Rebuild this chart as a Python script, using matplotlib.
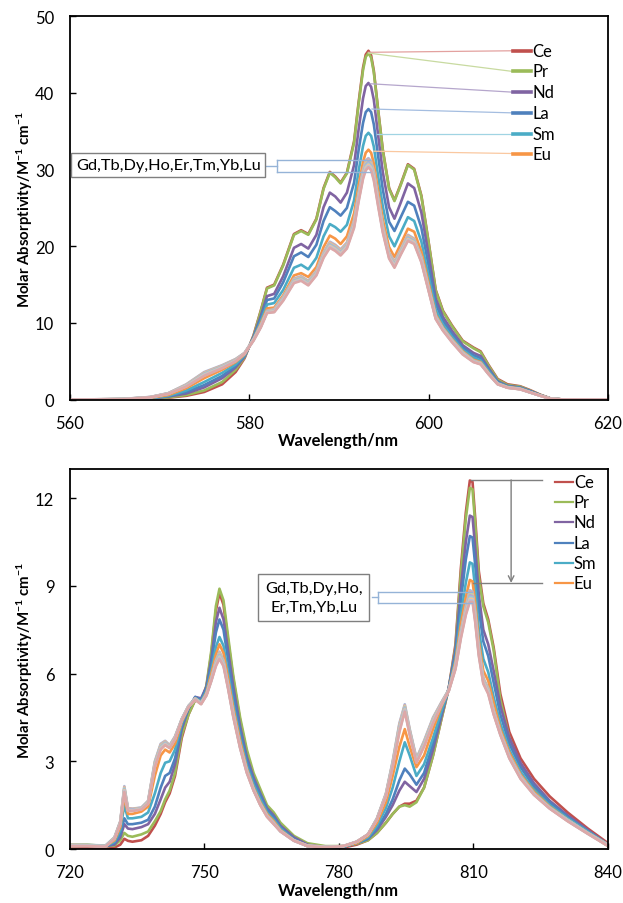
import matplotlib
matplotlib.use('Agg')
import matplotlib.pyplot as plt

plt.rcParams['font.family'] = ['Lato', 'DejaVu Sans']
plt.rcParams['mathtext.fontset'] = 'custom'
plt.rcParams['mathtext.rm'] = 'Lato:bold'
plt.rcParams['mathtext.it'] = 'Lato:bold'
plt.rcParams['mathtext.bf'] = 'Lato:bold'
plt.rcParams['mathtext.default'] = 'rm'

# ---------------- data: top panel (560-620 nm) ----------------
wl_top = [560, 566, 569, 571, 573, 575, 577, 578.5, 579.5, 580.5, 581.3, 582, 582.8, 583.8, 585, 585.8,
          586.6, 587.5, 588.3, 589, 589.6, 590.2, 590.9, 591.7, 592.2, 592.7, 593.0, 593.3, 593.6, 593.9,
          594.4, 594.9, 595.6, 596.2, 596.9, 597.7, 598.4, 599.2, 600, 600.8, 601.6, 602.6, 603.8, 605,
          605.8, 606.7, 607.7, 608.8, 610.2, 611.3, 612.5, 613.6, 615, 620]

Ce_top = [0, 0.03, 0.08, 0.25, 0.5, 1.0, 2.0, 3.6, 5.4, 8.4, 11.6, 14.6, 15.0, 17.6, 21.6, 22.1, 21.6, 23.6, 27.6,
          29.7, 29.1, 28.3, 29.6, 33.7, 38.7, 43.3, 45.0, 45.5, 44.9, 42.9, 37.6, 32.6, 27.6, 26.0, 28.1, 30.7,
          30.1, 26.6, 20.6, 14.3, 11.6, 9.7, 7.7, 6.8, 6.3, 4.5, 2.7, 2.0, 1.75, 1.25, 0.62, 0.16, 0.02, 0]
Pr_top = [0, 0.05, 0.1, 0.3, 0.6, 1.2, 2.3, 3.9, 5.5, 8.3, 11.5, 14.5, 14.9, 17.5, 21.5, 22.0, 21.5, 23.5, 27.5,
          29.6, 29.0, 28.2, 29.5, 33.5, 38.5, 43.0, 44.7, 45.2, 44.6, 42.7, 37.5, 32.5, 27.5, 25.9, 28.0, 30.6,
          30.0, 26.5, 20.5, 14.2, 11.5, 9.6, 7.6, 6.7, 6.2, 4.4, 2.6, 1.9, 1.7, 1.2, 0.6, 0.15, 0.02, 0]
Nd_top = [0, 0.05, 0.15, 0.4, 0.8, 1.6, 2.8, 4.2, 5.6, 8.2, 10.9, 13.5, 13.8, 16.1, 19.8, 20.3, 19.7, 21.5, 25.1,
          27.0, 26.5, 25.7, 27.0, 30.6, 35.2, 39.3, 40.9, 41.3, 40.8, 39.1, 34.3, 29.7, 25.1, 23.6, 25.7, 28.2,
          27.6, 24.4, 18.9, 13.2, 10.8, 9.0, 7.1, 6.1, 5.7, 4.1, 2.4, 1.8, 1.6, 1.15, 0.57, 0.14, 0.02, 0]
La_top = [0, 0.05, 0.2, 0.45, 1.0, 1.9, 3.1, 4.4, 5.7, 8.1, 10.6, 13.0, 13.2, 15.3, 18.7, 19.2, 18.6, 20.2, 23.3,
          25.1, 24.6, 24.0, 25.0, 28.3, 32.5, 36.1, 37.5, 37.9, 37.5, 35.9, 31.6, 27.4, 23.2, 22.0, 23.8, 25.8,
          25.3, 22.4, 17.5, 12.5, 10.3, 8.6, 6.8, 5.8, 5.4, 3.9, 2.3, 1.75, 1.55, 1.1, 0.55, 0.13, 0.02, 0]
Sm_top = [0, 0.06, 0.2, 0.5, 1.2, 2.3, 3.5, 4.6, 5.8, 8.0, 10.2, 12.4, 12.6, 14.3, 17.2, 17.6, 17.0, 18.5, 21.3,
          22.9, 22.5, 21.9, 22.8, 26.0, 29.8, 33.1, 34.4, 34.8, 34.4, 33.0, 29.0, 25.2, 21.3, 20.0, 21.8, 23.8,
          23.3, 20.6, 16.1, 11.7, 9.8, 8.2, 6.5, 5.5, 5.1, 3.7, 2.2, 1.7, 1.5, 1.05, 0.53, 0.13, 0.02, 0]
Eu_top = [0, 0.07, 0.25, 0.6, 1.5, 2.8, 3.9, 4.9, 5.9, 7.9, 9.9, 11.9, 12.0, 13.6, 16.2, 16.5, 16.0, 17.3, 19.9,
          21.4, 21.0, 20.3, 21.3, 24.3, 27.9, 31.0, 32.2, 32.6, 32.2, 30.8, 27.1, 23.5, 19.9, 18.6, 20.3, 22.3,
          21.9, 19.3, 15.2, 11.1, 9.4, 7.9, 6.3, 5.2, 4.9, 3.5, 2.1, 1.65, 1.45, 1.0, 0.51, 0.12, 0.02, 0]
Gd_top = [0, 0.1, 0.35, 0.85, 2.0, 3.6, 4.5, 5.3, 6.1, 7.9, 9.7, 11.6, 11.8, 13.4, 15.8, 16.1, 15.5, 16.8, 19.2,
          20.6, 20.2, 19.6, 20.5, 23.4, 26.9, 30.0, 31.2, 31.5, 31.1, 29.8, 26.2, 22.7, 19.2, 18.0, 19.6, 21.5,
          21.0, 18.6, 14.7, 10.9, 9.3, 7.8, 6.2, 5.1, 4.8, 3.4, 2.1, 1.6, 1.4, 0.97, 0.52, 0.13, 0.02, 0]
Tb_top = [0, 0.09, 0.34, 0.84, 1.96, 3.53, 4.44, 5.26, 6.09, 7.87, 9.66, 11.56, 11.74, 13.33, 15.71, 16.01, 15.41,
          16.71, 19.1, 20.49, 20.09, 19.49, 20.39, 23.26, 26.74, 29.83, 31.01, 31.33, 30.93, 29.63, 26.04, 22.57,
          19.09, 17.89, 19.5, 21.39, 20.9, 18.5, 14.63, 10.84, 9.26, 7.76, 6.16, 5.07, 4.77, 3.39, 2.09, 1.6, 1.4,
          0.97, 0.52, 0.13, 0.02, 0]
Dy_top = [0, 0.09, 0.33, 0.82, 1.91, 3.46, 4.39, 5.21, 6.07, 7.84, 9.61, 11.51, 11.69, 13.26, 15.63, 15.93, 15.33,
          16.63, 19.0, 20.37, 19.97, 19.37, 20.27, 23.11, 26.59, 29.66, 30.83, 31.16, 30.76, 29.46, 25.89, 22.44,
          18.97, 17.77, 19.4, 21.27, 20.8, 18.4, 14.56, 10.79, 9.21, 7.71, 6.11, 5.04, 4.74, 3.37, 2.07, 1.59, 1.39,
          0.96, 0.51, 0.12, 0.02, 0]
Ho_top = [0, 0.08, 0.33, 0.81, 1.87, 3.39, 4.33, 5.17, 6.06, 7.81, 9.57, 11.47, 11.63, 13.19, 15.54, 15.84, 15.24,
          16.54, 18.9, 20.26, 19.86, 19.26, 20.16, 22.97, 26.43, 29.49, 30.64, 30.99, 30.59, 29.29, 25.73, 22.31,
          18.86, 17.66, 19.3, 21.16, 20.7, 18.3, 14.49, 10.73, 9.17, 7.67, 6.07, 5.01, 4.71, 3.36, 2.06, 1.58, 1.38,
          0.96, 0.51, 0.12, 0.02, 0]
Er_top = [0, 0.07, 0.32, 0.79, 1.83, 3.31, 4.27, 5.13, 6.04, 7.79, 9.53, 11.43, 11.57, 13.11, 15.46, 15.76, 15.16,
          16.46, 18.8, 20.14, 19.74, 19.14, 20.04, 22.83, 26.27, 29.31, 30.46, 30.81, 30.41, 29.11, 25.57, 22.19,
          18.74, 17.54, 19.2, 21.04, 20.6, 18.2, 14.41, 10.67, 9.13, 7.63, 6.03, 4.99, 4.69, 3.34, 2.04, 1.57, 1.37,
          0.95, 0.5, 0.12, 0.02, 0]
Tm_top = [0, 0.06, 0.31, 0.78, 1.79, 3.24, 4.21, 5.09, 6.03, 7.76, 9.49, 11.39, 11.51, 13.04, 15.37, 15.67, 15.07,
          16.37, 18.7, 20.03, 19.63, 19.03, 19.93, 22.69, 26.11, 29.14, 30.27, 30.64, 30.24, 28.94, 25.41, 22.06,
          18.63, 17.43, 19.1, 20.93, 20.5, 18.1, 14.34, 10.61, 9.09, 7.59, 5.99, 4.96, 4.66, 3.33, 2.03, 1.56, 1.36,
          0.95, 0.5, 0.12, 0.02, 0]
Yb_top = [0, 0.06, 0.3, 0.76, 1.74, 3.17, 4.16, 5.04, 6.01, 7.73, 9.44, 11.34, 11.46, 12.97, 15.29, 15.59, 14.99,
          16.29, 18.6, 19.91, 19.51, 18.91, 19.81, 22.54, 25.96, 28.97, 30.09, 30.47, 30.07, 28.77, 25.26, 21.93,
          18.51, 17.31, 19.0, 20.81, 20.4, 18.0, 14.27, 10.56, 9.04, 7.54, 5.94, 4.93, 4.63, 3.31, 2.01, 1.56, 1.36,
          0.94, 0.49, 0.11, 0.02, 0]
Lu_top = [0, 0.05, 0.3, 0.75, 1.7, 3.1, 4.1, 5.0, 6.0, 7.7, 9.4, 11.3, 11.4, 12.9, 15.2, 15.5, 14.9, 16.2, 18.5,
          19.8, 19.4, 18.8, 19.7, 22.4, 25.8, 28.8, 29.9, 30.3, 29.9, 28.6, 25.1, 21.8, 18.4, 17.2, 18.9, 20.7,
          20.3, 17.9, 14.2, 10.5, 9.0, 7.5, 5.9, 4.9, 4.6, 3.3, 2.0, 1.55, 1.35, 0.94, 0.49, 0.11, 0.02, 0]

# ---------------- data: bottom panel (720-840 nm) ----------------
wl_bot = [720, 724, 728, 730, 731.3, 732.2, 733.0, 734, 736, 737.5, 739, 740.3, 741.3, 742.3, 743.5, 745, 746.5,
          748, 749.3, 750.5, 751.6, 752.6, 753.4, 754.3, 755.3, 756.5, 758, 759.5, 761, 762.5, 764, 765.5, 767,
          770, 773, 777, 781, 784, 786.5, 788.5, 790.5, 792, 793.5, 794.7, 795.8, 797.3, 799, 801, 802.8, 804.5,
          806, 807.2, 808.3, 809.2, 809.8, 810.4, 811.2, 812.2, 813.3, 814.5, 816, 818, 820.5, 823.5, 827, 831,
          835.5, 840]

Ce_bot = [.05, .05, 0.0, .05, .15, .35, .28, .25, .3, .45, .8, 1.2, 1.6, 1.9, 2.5, 3.8, 4.6, 5.1, 5.05, 5.55, 6.7,
          8.15, 8.75, 8.35, 7.15, 5.8, 4.4, 3.3, 2.5, 1.95, 1.4, 1.15, .8, .35, .1, 0.0, .05, .15, .3, .55, .9, 1.2,
          1.45, 1.55, 1.55, 1.65, 2.1, 3.2, 4.4, 5.5, 7.0, 9.6, 11.5, 12.6, 12.55, 11.3, 9.5, 8.4, 7.85, 6.9, 5.3,
          4.0, 3.1, 2.4, 1.8, 1.25, .7, .2]
Pr_bot = [.15, .15, .1, .12, .3, .55, .45, .42, .5, .6, .95, 1.3, 1.7, 2.0, 2.6, 3.9, 4.6, 5.1, 5.0, 5.6, 6.8, 8.3,
          8.9, 8.5, 7.3, 5.9, 4.5, 3.4, 2.6, 2.05, 1.5, 1.25, .9, .45, .2, .1, .1, .18, .3, .55, .9, 1.2, 1.45, 1.5,
          1.45, 1.6, 2.1, 3.2, 4.4, 5.5, 6.9, 9.4, 11.3, 12.35, 12.3, 11.1, 9.3, 8.3, 7.75, 6.8, 5.1, 3.8, 2.85, 2.1,
          1.5, 1.0, .55, .1]
Nd_bot = [.12, .12, .1, .15, .4, .85, .7, .68, .75, .85, 1.2, 1.7, 2.1, 2.3, 2.9, 4.1, 4.8, 5.2, 5.15, 5.55, 6.5,
          7.75, 8.25, 7.85, 6.8, 5.55, 4.2, 3.15, 2.45, 1.9, 1.4, 1.15, .8, .4, .15, .05, .08, .2, .35, .65, 1.1, 1.5,
          2.0, 2.3, 2.15, 1.95, 2.4, 3.4, 4.5, 5.5, 6.8, 8.9, 10.5, 11.4, 11.35, 10.3, 8.7, 7.5, 7.0, 6.1, 4.9, 3.8,
          2.95, 2.25, 1.65, 1.15, .65, .15]
La_bot = [.1, .12, .1, .2, .5, 1.05, .85, .85, .9, 1.0, 1.45, 2.1, 2.5, 2.6, 3.1, 4.2, 4.8, 5.2, 5.1, 5.5, 6.35,
          7.4, 7.85, 7.5, 6.5, 5.3, 4.05, 3.05, 2.35, 1.85, 1.35, 1.1, .75, .35, .12, .05, .08, .2, .35, .7, 1.2, 1.7,
          2.35, 2.75, 2.55, 2.2, 2.6, 3.6, 4.6, 5.5, 6.7, 8.5, 9.9, 10.7, 10.65, 9.7, 8.2, 7.1, 6.6, 5.7, 4.6, 3.6,
          2.8, 2.15, 1.6, 1.1, .6, .15]
Sm_bot = [.12, .12, .1, .25, .65, 1.5, 1.05, 1.05, 1.1, 1.25, 1.9, 2.6, 2.95, 3.0, 3.4, 4.3, 4.85, 5.15, 5.05, 5.4,
          6.1, 6.9, 7.25, 6.95, 6.05, 4.95, 3.8, 2.85, 2.2, 1.7, 1.25, 1.0, .7, .3, .1, .05, .08, .2, .4, .8, 1.4,
          2.1, 3.0, 3.65, 3.2, 2.5, 2.9, 3.8, 4.7, 5.45, 6.5, 8.0, 9.1, 9.8, 9.75, 8.9, 7.5, 6.5, 6.05, 5.2, 4.3, 3.4,
          2.65, 2.0, 1.5, 1.05, .6, .15]
Eu_bot = [.1, .12, .1, .3, .75, 1.8, 1.2, 1.2, 1.28, 1.45, 2.5, 3.2, 3.4, 3.3, 3.6, 4.35, 4.85, 5.15, 5.0, 5.35,
          6.0, 6.65, 7.0, 6.7, 5.85, 4.8, 3.7, 2.75, 2.1, 1.6, 1.2, .95, .65, .3, .1, .05, .1, .2, .45, .9, 1.6, 2.5,
          3.5, 4.1, 3.5, 2.8, 3.2, 4.1, 4.85, 5.45, 6.4, 7.7, 8.6, 9.2, 9.15, 8.4, 7.1, 6.1, 5.75, 5.0, 4.1, 3.3,
          2.55, 1.95, 1.45, 1.0, .55, .15]
Gd_bot = [.15, .14, .12, .40, .95, 2.15, 1.4, 1.38, 1.42, 1.65, 3.0, 3.6, 3.7, 3.55, 3.85, 4.45, 4.9, 5.15, 5.0,
          5.3, 5.85, 6.45, 6.75, 6.45, 5.65, 4.65, 3.55, 2.7, 2.05, 1.55, 1.15, .9, .62, .3, .12, .08, .1, .25, .5,
          1.05, 1.9, 3.0, 4.3, 4.95, 4.1, 3.1, 3.7, 4.5, 5.0, 5.45, 6.3, 7.45, 8.3, 8.85, 8.8, 8.1, 6.9, 5.85, 5.5,
          4.75, 4.0, 3.2, 2.5, 1.9, 1.42, 1.0, .55, .15]
Tb_bot = [.14, .13, .11, .39, .94, 2.12, 1.39, 1.37, 1.41, 1.64, 2.97, 3.57, 3.68, 3.54, 3.84, 4.44, 4.89, 5.14,
          4.99, 5.29, 5.84, 6.42, 6.71, 6.42, 5.63, 4.63, 3.54, 2.69, 2.04, 1.54, 1.14, .89, .62, .3, .12, .08, .1,
          .25, .5, 1.04, 1.89, 2.97, 4.26, 4.91, 4.07, 3.08, 3.67, 4.47, 4.99, 5.44, 6.28, 7.41, 8.26, 8.79, 8.75,
          8.05, 6.86, 5.82, 5.47, 4.73, 3.99, 3.19, 2.49, 1.89, 1.41, .99, .55, .14]
Dy_bot = [.14, .13, .11, .39, .92, 2.09, 1.37, 1.36, 1.4, 1.62, 2.94, 3.54, 3.66, 3.52, 3.82, 4.44, 4.89, 5.14,
          4.99, 5.29, 5.82, 6.39, 6.68, 6.39, 5.61, 4.61, 3.52, 2.67, 2.04, 1.54, 1.14, .89, .61, .29, .11, .07, .1,
          .25, .5, 1.04, 1.87, 2.94, 4.21, 4.88, 4.04, 3.06, 3.64, 4.44, 4.97, 5.44, 6.26, 7.38, 8.21, 8.74, 8.7,
          8.0, 6.81, 5.79, 5.44, 4.71, 3.97, 3.17, 2.47, 1.89, 1.41, .99, .54, .14]
Ho_bot = [.13, .12, .10, .38, .91, 2.06, 1.36, 1.35, 1.39, 1.61, 2.91, 3.51, 3.64, 3.51, 3.81, 4.43, 4.88, 5.13,
          4.98, 5.28, 5.81, 6.36, 6.64, 6.36, 5.59, 4.59, 3.51, 2.66, 2.03, 1.53, 1.13, .88, .61, .29, .11, .07, .1,
          .25, .5, 1.03, 1.86, 2.91, 4.17, 4.84, 4.01, 3.04, 3.61, 4.41, 4.96, 5.43, 6.24, 7.34, 8.17, 8.68, 8.65,
          7.95, 6.77, 5.76, 5.41, 4.69, 3.96, 3.16, 2.46, 1.88, 1.4, .98, .54, .13]
Er_bot = [.12, .12, .10, .37, .89, 2.04, 1.34, 1.33, 1.38, 1.59, 2.89, 3.49, 3.61, 3.49, 3.79, 4.42, 4.87, 5.12,
          4.97, 5.27, 5.79, 6.34, 6.61, 6.34, 5.56, 4.56, 3.49, 2.64, 2.02, 1.52, 1.12, .87, .61, .29, .11, .06, .1,
          .25, .5, 1.02, 1.84, 2.89, 4.13, 4.81, 3.99, 3.01, 3.59, 4.39, 4.94, 5.42, 6.21, 7.31, 8.13, 8.62, 8.6,
          7.9, 6.73, 5.74, 5.39, 4.66, 3.94, 3.14, 2.44, 1.87, 1.4, .97, .53, .12]
Tm_bot = [.11, .11, .09, .36, .88, 2.01, 1.33, 1.32, 1.37, 1.58, 2.86, 3.46, 3.59, 3.48, 3.78, 4.41, 4.86, 5.11,
          4.96, 5.26, 5.78, 6.31, 6.57, 6.31, 5.54, 4.54, 3.48, 2.63, 2.01, 1.51, 1.11, .86, .61, .29, .11, .06, .1,
          .25, .5, 1.01, 1.83, 2.86, 4.09, 4.77, 3.96, 2.99, 3.56, 4.36, 4.93, 5.41, 6.19, 7.27, 8.09, 8.56, 8.55,
          7.85, 6.69, 5.71, 5.36, 4.64, 3.93, 3.13, 2.43, 1.86, 1.39, .96, .53, .11]
Yb_bot = [.11, .11, .09, .36, .86, 1.98, 1.31, 1.31, 1.36, 1.56, 2.83, 3.43, 3.57, 3.46, 3.76, 4.41, 4.86, 5.11,
          4.96, 5.26, 5.76, 6.28, 6.54, 6.28, 5.52, 4.52, 3.46, 2.61, 2.01, 1.51, 1.11, .86, .6, .28, .1, .05, .1,
          .25, .5, 1.01, 1.81, 2.83, 4.04, 4.74, 3.93, 2.97, 3.53, 4.33, 4.91, 5.41, 6.17, 7.24, 8.04, 8.51, 8.5,
          7.8, 6.64, 5.68, 5.33, 4.62, 3.91, 3.11, 2.41, 1.86, 1.39, .96, .52, .11]
Lu_bot = [.10, .10, .08, .35, .85, 1.95, 1.3, 1.3, 1.35, 1.55, 2.8, 3.4, 3.55, 3.45, 3.75, 4.4, 4.85, 5.1, 4.95,
          5.25, 5.75, 6.25, 6.5, 6.25, 5.5, 4.5, 3.45, 2.6, 2.0, 1.5, 1.1, .85, .6, .28, .1, .05, .1, .25, .5, 1.0,
          1.8, 2.8, 4.0, 4.7, 3.9, 2.95, 3.5, 4.3, 4.9, 5.4, 6.15, 7.2, 8.0, 8.45, 8.45, 7.75, 6.6, 5.65, 5.3, 4.6,
          3.9, 3.1, 2.4, 1.85, 1.38, .95, .52, .10]

names = ['Ce', 'Pr', 'Nd', 'La', 'Sm', 'Eu', 'Gd', 'Tb', 'Dy', 'Ho', 'Er', 'Tm', 'Yb', 'Lu']
top_series = [Ce_top, Pr_top, Nd_top, La_top, Sm_top, Eu_top, Gd_top, Tb_top, Dy_top, Ho_top, Er_top, Tm_top,
              Yb_top, Lu_top]
bot_series = [Ce_bot, Pr_bot, Nd_bot, La_bot, Sm_bot, Eu_bot, Gd_bot, Tb_bot, Dy_bot, Ho_bot, Er_bot, Tm_bot,
              Yb_bot, Lu_bot]
colors = ['#C0504D', '#9BBB59', '#8064A2', '#4F81BD', '#4BACC6', '#F79646',
          '#A9BCD8', '#E8A3A2', '#C6D9A0', '#B8A9D0', '#99CCDB', '#F8C199', '#B7C4DA', '#DDA8A8']
leader_colors = ['#E3A19F', '#C8DAA0', '#B5A6CC', '#A4BDE0', '#A0D4E3', '#FAC8A0']

group_text_top = 'Gd,Tb,Dy,Ho,Er,Tm,Yb,Lu'
group_text_bot = 'Gd,Tb,Dy,Ho,\nEr,Tm,Yb,Lu'
ylabel = 'Molar Absorptivity/M$^{-1}$ cm$^{-1}$'
xlabel = 'Wavelength/nm'

# ---------------- figure ----------------
fig = plt.figure(figsize=(6.23, 9.04), dpi=100)
ax1 = fig.add_axes([0.1117, 0.5568, 0.8643, 0.4241])
ax2 = fig.add_axes([0.1117, 0.0597, 0.8643, 0.4206])

for name, ys, c in zip(names, top_series, colors):
    ax1.plot(wl_top, ys, color=c, lw=1.9, solid_joinstyle='round', label=name)
for name, ys, c in zip(names, bot_series, colors):
    ax2.plot(wl_bot, ys, color=c, lw=1.9, solid_joinstyle='round', label=name)

for ax in (ax1, ax2):
    ax.tick_params(direction='in', length=4, width=1, labelsize=12, pad=11)
    for s in ax.spines.values():
        s.set_linewidth(1.3)
    ax.set_xlabel(xlabel, fontsize=12, fontweight='bold', labelpad=1)
    ax.set_ylabel(ylabel, fontsize=10.8, fontweight='bold', labelpad=0)

ax1.set_xlim(560, 620)
ax1.set_ylim(0, 50)
ax1.set_xticks([560, 580, 600, 620])
ax1.set_yticks([0, 10, 20, 30, 40, 50])

ax2.set_xlim(720, 840)
ax2.set_ylim(0, 13)
ax2.set_xticks([720, 750, 780, 810, 840])
ax2.set_yticks([0, 3, 6, 9, 12])

# ---- top panel labels with leader lines ----
label_y_top = [45.5, 42.8, 40.1, 37.4, 34.7, 32.1]
leader_start_top = [(593.3, 45.3), (593.3, 45.2), (593.5, 41.2), (593.7, 37.9), (594.3, 34.7), (593.9, 32.4)]
for i in range(6):
    x0, y0 = leader_start_top[i]
    yl = label_y_top[i]
    ax1.plot([x0, 609.4], [y0, yl], color=leader_colors[i], lw=0.9)
    ax1.plot([609.4, 611.4], [yl, yl], color=colors[i], lw=2.6)
    ax1.text(611.6, yl, names[i], fontsize=12, va='center', ha='left')

ax1.text(571.0, 30.6, group_text_top, fontsize=11.8, va='center', ha='center',
         bbox=dict(boxstyle='square,pad=0.28', fc='white', ec='#7F7F7F', lw=1))
br = '#95B3D7'
ax1.plot([581.9, 583.1], [30.5, 30.5], color=br, lw=1)
ax1.plot([583.1, 583.1], [29.7, 31.3], color=br, lw=1)
ax1.plot([583.1, 593.5], [31.3, 31.3], color=br, lw=1)
ax1.plot([583.1, 593.5], [29.7, 29.7], color=br, lw=1)

# ---- bottom panel key (series names) ----
key_y_bot = [12.56, 11.87, 11.17, 10.48, 9.78, 9.09]
for i in range(6):
    yk = key_y_bot[i]
    ax2.plot([828.2, 832.2], [yk, yk], color=colors[i], lw=1.6)
    ax2.text(832.4, yk, names[i], fontsize=12, va='center', ha='left')

ax2.text(774.4, 8.6, group_text_bot, fontsize=11.8, va='center', ha='center', linespacing=1.4,
         bbox=dict(boxstyle='square,pad=0.42', fc='white', ec='#7F7F7F', lw=1))
ax2.plot([787.3, 788.7], [8.6, 8.6], color=br, lw=1)
ax2.plot([788.7, 788.7], [8.4, 8.8], color=br, lw=1)
ax2.plot([788.7, 809.6], [8.8, 8.8], color=br, lw=1)
ax2.plot([788.7, 809.6], [8.4, 8.4], color=br, lw=1)

gr = '#7F7F7F'
ax2.plot([809.5, 825.2], [12.62, 12.62], color=gr, lw=1)
ax2.plot([810.0, 825.2], [9.1, 9.1], color=gr, lw=1)
ax2.annotate('', xy=(818.4, 9.1), xytext=(818.4, 12.62),
             arrowprops=dict(arrowstyle='->', color=gr, lw=1, shrinkA=0, shrinkB=0))

fig.savefig('out.png', dpi=100)
